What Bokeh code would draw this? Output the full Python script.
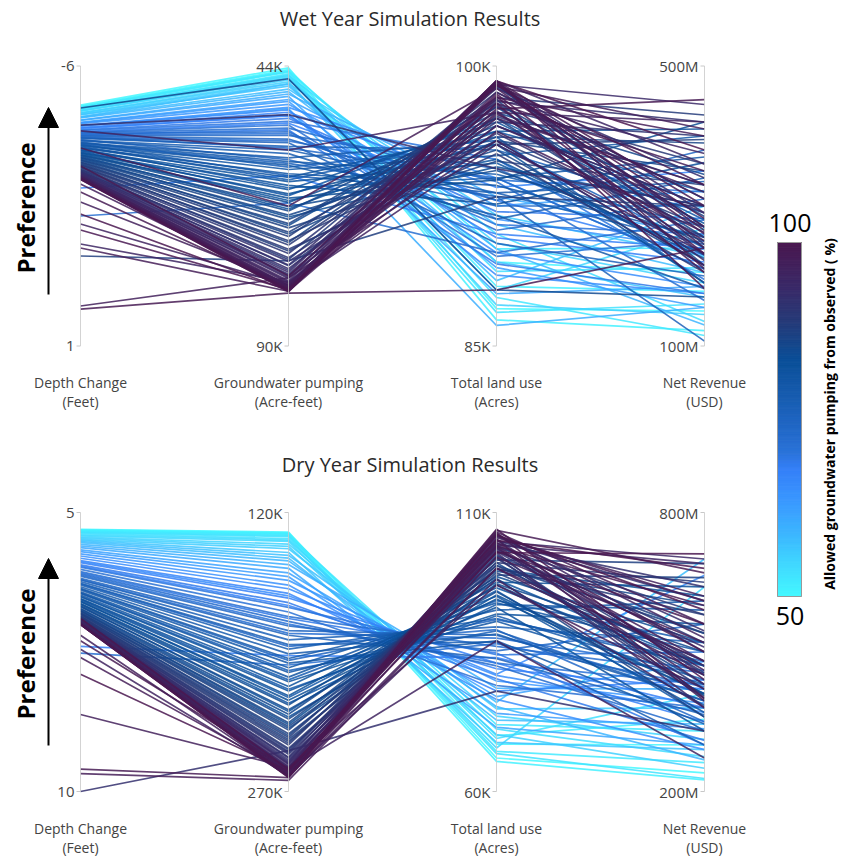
import math
import numpy as np
from bokeh.plotting import figure
from bokeh.layouts import row, column
from bokeh.models import Range1d, ColumnDataSource, Arrow, NormalHead
from bokeh.transform import linear_cmap
from bokeh.core.properties import value
from bokeh.embed import file_html
from bokeh.resources import INLINE

FONT = value("Open Sans")

AXIS_NAMES = ["Depth Change", "Groundwater pumping", "Total land use", "Net Revenue"]
AXIS_UNITS = ["(Feet)", "(Acre-feet)", "(Acres)", "(USD)"]

# ---------------- Wet year (pumping in K acre-feet, land in K acres, revenue in M USD)
WET_TOP = [-6, 44, 100, 500]
WET_BOTTOM = [1, 90, 85, 100]
WET_TOP_LABELS = ["-6", "44K", "100K", "500M"]
WET_BOTTOM_LABELS = ["1", "90K", "85K", "100M"]

wet_pct = [50, 50.5, 51, 51.5, 52, 52.5, 53, 53.5, 54, 54.5,
           55, 55.5, 56, 57, 57.5, 58, 59, 60, 61, 62,
           63, 64, 65, 66, 67, 68, 69, 70, 71, 72,
           73, 74, 75, 76, 77, 77.5, 78, 79, 79.5, 80,
           80.5, 81, 81.5, 82, 82.5, 83, 83.5, 84, 84.5, 85,
           85.5, 86, 86.5, 87, 87.5, 88, 88.5, 89, 89.5, 90,
           90.5, 91, 92, 92.5, 93, 94, 94.5, 95, 96, 96.5,
           97, 97.5, 98, 98.5, 99, 99.5, 100,
           85, 92, 96, 98, 99, 97, 99, 68, 97, 72,
           100, 96, 99.5, 88, 95, 98, 97, 99, 60, 76,
           70.5, 73.5, 75.5, 76.5, 78.5, 79, 80, 81, 82, 83,
           84, 85, 86, 87, 88, 89, 90, 91, 92, 93,
           94, 95, 96, 97, 98, 99, 65.5, 67.5, 69.5, 71.5]
wet_depth = [-5.02, -4.99, -4.98, -4.96, -4.96, -4.92, -4.93, -4.89, -4.88, -4.87,
             -4.83, -4.82, -4.79, -4.78, -4.73, -4.72, -4.70, -4.65, -4.64, -4.59,
             -4.58, -4.56, -4.51, -4.50, -4.46, -4.45, -4.40, -4.39, -4.34, -4.33,
             -4.31, -4.26, -4.25, -4.20, -4.19, -4.14, -4.13, -4.08, -4.07, -4.02,
             -4.01, -3.96, -3.95, -3.90, -3.89, -3.84, -3.83, -3.78, -3.77, -3.72,
             -3.71, -3.66, -3.65, -3.60, -3.59, -3.54, -3.53, -3.48, -3.47, -3.42,
             -3.41, -3.37, -3.36, -3.33, -3.32, -3.29, -3.28, -3.26, -3.24, -3.23,
             -3.22, -3.21, -3.20, -3.19, -3.18, -3.18, -3.16,
             -4.95, -4.52, -4.38, -3.95, -3.50, -3.05, -2.85, -2.95, -2.60, -2.25,
             -2.30, -2.05, -1.90, -1.25, -1.55, -1.45, 0.00, 0.08, -4.50, -4.05,
             -4.28, -4.22, -4.16, -4.10, -4.04, -3.99, -3.93, -3.87, -3.81, -3.75,
             -3.69, -3.63, -3.57, -3.51, -3.45, -3.39, -3.35, -3.31, -3.27, -3.25,
             -3.23, -3.21, -3.20, -3.19, -3.18, -3.17, -4.43, -4.36, -4.29, -4.22]
wet_pump = [44.3, 44.6, 44.8, 45.0, 44.9, 45.3, 45.5, 45.8, 45.6, 46.0,
            46.3, 46.6, 46.9, 47.3, 47.0, 47.8, 48.2, 48.6, 49.0, 49.5,
            49.8, 50.3, 50.8, 51.2, 51.6, 52.2, 52.6, 53.1, 53.7, 54.2,
            54.8, 55.4, 56.0, 56.6, 57.2, 57.8, 58.4, 59.1, 59.7, 60.3,
            61.0, 61.7, 62.3, 63.0, 63.6, 64.3, 65.0, 65.7, 66.4, 67.1,
            67.8, 68.5, 69.2, 69.9, 70.6, 71.3, 72.0, 72.7, 73.4, 74.1,
            74.8, 75.5, 76.1, 76.7, 77.3, 77.9, 78.4, 78.9, 79.3, 79.7,
            80.0, 80.3, 80.5, 80.7, 80.8, 80.9, 81.0,
            46.1, 52.0, 57.8, 67.0, 78.5, 80.2, 80.5, 62.0, 79.8, 66.5,
            80.9, 80.0, 80.7, 76.0, 79.5, 81.0, 78.8, 81.3, 51.0, 60.0,
            55.1, 57.5, 59.4, 60.6, 62.0, 62.7, 64.0, 65.3, 66.1, 67.5,
            68.8, 70.2, 71.6, 73.0, 74.4, 75.8, 76.8, 77.6, 78.2, 78.7,
            79.5, 80.1, 80.4, 80.6, 80.9, 81.1, 52.0, 53.4, 54.5, 56.3]
wet_land = [87.0, 89.5, 86.4, 88.2, 90.2, 87.6, 86.8, 89.0, 91.0, 88.0,
            90.5, 87.2, 92.0, 89.5, 88.5, 91.5, 90.2, 93.0, 87.8, 92.5,
            89.2, 91.8, 94.0, 88.8, 93.5, 90.8, 92.2, 95.0, 89.8, 93.8,
            91.2, 94.5, 92.8, 90.5, 95.5, 93.2, 91.8, 96.0, 94.2, 92.0,
            95.2, 93.6, 96.5, 94.8, 92.6, 97.0, 95.8, 93.9, 96.8, 94.4,
            97.5, 95.5, 96.2, 98.0, 94.9, 97.2, 98.3, 96.0, 97.8, 95.3,
            98.6, 97.0, 96.4, 98.8, 97.6, 99.0, 96.8, 98.2, 99.2, 97.4,
            98.9, 99.1, 98.0, 99.2, 97.7, 98.5, 99.2,
            88.0, 94.5, 97.5, 98.8, 99.0, 96.5, 98.0, 91.0, 97.2, 90.0,
            99.0, 95.8, 98.4, 93.0, 96.8, 97.5, 96.0, 88.0, 86.1, 93.0,
            91.5, 94.0, 92.5, 95.8, 93.2, 96.2, 94.0, 97.2, 95.0, 96.5,
            94.6, 97.8, 96.0, 98.2, 95.8, 98.9, 97.3, 99.0, 98.1, 99.1,
            97.9, 99.2, 98.6, 99.0, 98.3, 99.2, 90.0, 92.8, 89.4, 93.9]
wet_rev = [150, 205, 122, 178, 240, 115, 160, 212, 135, 268,
           190, 145, 228, 170, 300, 205, 130, 258, 185, 322,
           155, 238, 210, 175, 350, 220, 282, 195, 250, 165,
           310, 232, 380, 200, 290, 245, 340, 215, 270, 182,
           400, 255, 320, 230, 362, 275, 190, 420, 300, 250,
           345, 215, 390, 285, 330, 240, 430, 270, 360, 205,
           310, 400, 255, 340, 222, 445, 290, 375, 240, 320,
           410, 265, 350, 300, 452, 232, 380,
           170, 300, 420, 260, 330, 262, 205, 240, 330, 280,
           282, 232, 182, 300, 300, 250, 215, 240, 155, 107,
           260, 210, 300, 240, 335, 190, 370, 280, 225, 410,
           300, 255, 350, 215, 395, 270, 330, 245, 420, 290,
           230, 360, 310, 270, 400, 210, 185, 230, 175, 320]

# ---------------- Dry year
DRY_TOP = [5, 120, 110, 800]
DRY_BOTTOM = [10, 270, 60, 200]
DRY_TOP_LABELS = ["5", "120K", "110K", "800M"]
DRY_BOTTOM_LABELS = ["10", "270K", "60K", "200M"]

dry_pct = [50, 50.5, 51, 51.5, 52, 52.5, 53, 53.5, 54, 54.5,
           55, 55.5, 56, 57, 57.5, 58, 59, 60, 61, 62,
           63, 64, 65, 66, 67, 68, 69, 70, 71, 72,
           73, 74, 75, 76, 77, 77.5, 78, 79, 79.5, 80,
           80.5, 81, 81.5, 82, 82.5, 83, 83.5, 84, 84.5, 85,
           85.5, 86, 86.5, 87, 87.5, 88, 88.5, 89, 89.5, 90,
           90.5, 91, 92, 92.5, 93, 94, 94.5, 95, 96, 96.5,
           97, 97.5, 98, 98.5, 99, 99.5, 100,
           97, 99, 96, 68, 72, 98, 100, 97, 99, 98, 92, 100, 96,
           70.5, 73.5, 75.5, 76.5, 78, 79, 80, 81, 82, 83,
           84, 85, 86, 87, 88, 89, 90, 91, 92, 93,
           94, 95, 96, 97, 98, 99, 65.5, 67.5, 69.5, 71.5]
dry_depth = [5.30, 5.31, 5.32, 5.33, 5.34, 5.35, 5.36, 5.38, 5.40, 5.42,
             5.44, 5.46, 5.48, 5.50, 5.52, 5.54, 5.57, 5.60, 5.63, 5.67,
             5.70, 5.74, 5.78, 5.82, 5.86, 5.90, 5.94, 5.98, 6.02, 6.06,
             6.10, 6.14, 6.18, 6.21, 6.24, 6.27, 6.30, 6.33, 6.36, 6.39,
             6.42, 6.45, 6.48, 6.51, 6.54, 6.57, 6.60, 6.63, 6.66, 6.69,
             6.72, 6.75, 6.77, 6.79, 6.81, 6.83, 6.85, 6.87, 6.89, 6.90,
             6.91, 6.92, 6.93, 6.94, 6.95, 6.96, 6.97, 6.97, 6.98, 6.98,
             6.99, 6.99, 7.00, 7.00, 7.00, 7.01, 7.01,
             7.20, 7.30, 7.45, 7.40, 7.52, 7.60, 7.90, 8.62, 9.60, 9.68, 10.00, 6.90, 6.95,
             6.12, 6.28, 6.37, 6.44, 6.50, 6.55, 6.59, 6.64, 6.68, 6.73,
             6.76, 6.80, 6.82, 6.86, 6.88, 6.90, 6.92, 6.93, 6.94, 6.96,
             6.97, 6.98, 6.99, 7.00, 7.00, 7.01, 5.88, 5.96, 6.08, 6.20]
dry_pump = [130.5, 131.0, 131.2, 131.5, 132.0, 132.5, 133.0, 134.0, 134.8, 135.5,
            137.0, 138.2, 139.5, 141.5, 143.0, 144.5, 146.0, 148.0, 150.0, 152.5,
            154.5, 156.5, 159.0, 161.0, 163.5, 166.0, 168.5, 171.0, 173.5, 176.0,
            178.5, 181.0, 183.5, 186.0, 188.5, 191.0, 193.5, 196.0, 198.5, 201.0,
            203.5, 206.0, 208.5, 211.0, 213.5, 216.0, 218.5, 221.0, 223.5, 226.0,
            228.5, 231.0, 233.0, 235.0, 237.0, 239.0, 241.0, 243.0, 245.0, 246.8,
            248.5, 250.0, 251.5, 253.0, 254.5, 255.5, 256.5, 257.5, 258.2, 259.0,
            259.6, 260.2, 260.8, 261.3, 261.8, 262.2, 262.5,
            262.0, 258.0, 261.5, 197.0, 202.0, 260.0, 259.0, 257.0, 262.5, 264.0, 248.0, 258.0, 258.0,
            180.0, 192.0, 199.5, 205.0, 210.0, 215.0, 219.5, 222.5, 227.0, 230.0,
            234.0, 236.0, 240.0, 242.0, 244.0, 247.5, 249.2, 252.0, 253.8, 255.0,
            257.0, 258.6, 259.8, 260.5, 261.0, 262.0, 164.8, 170.0, 177.0, 185.0]
dry_land = [66.0, 68.5, 65.4, 70.0, 67.2, 72.0, 66.8, 69.5, 71.2, 67.8,
            73.5, 70.2, 74.8, 68.8, 76.0, 72.8, 75.2, 78.5, 71.5, 77.0,
            74.0, 79.8, 76.5, 81.0, 78.0, 83.0, 80.2, 84.5, 79.0, 86.0,
            82.5, 85.2, 88.0, 83.8, 89.5, 86.8, 91.0, 88.2, 92.5, 87.0,
            93.8, 90.5, 95.0, 91.8, 96.5, 93.0, 97.5, 94.5, 98.5, 95.8,
            99.5, 97.0, 100.5, 98.2, 101.5, 99.2, 102.5, 100.0, 103.5, 101.0,
            104.2, 102.0, 105.0, 103.0, 105.8, 102.8, 104.8, 106.2, 103.8, 105.5,
            104.0, 106.5, 105.2, 106.8, 104.6, 107.0, 106.0,
            100.0, 104.0, 98.0, 84.0, 86.5, 102.0, 105.0, 97.0, 103.0, 100.0, 78.0, 102.8, 87.0,
            83.0, 89.0, 90.8, 88.8, 94.2, 91.5, 96.0, 93.5, 98.0, 95.2,
            99.8, 97.2, 101.0, 98.8, 102.2, 100.5, 103.8, 101.8, 104.5, 103.2,
            105.2, 104.2, 106.0, 103.6, 105.8, 106.4, 80.8, 82.0, 84.8, 87.5]
dry_rev = [240, 300, 225, 355, 262, 330, 228, 410, 275, 640,
           312, 250, 380, 290, 700, 345, 268, 420, 300, 480,
           335, 390, 290, 665, 440, 350, 310, 500, 380, 455,
           330, 560, 410, 365, 520, 300, 470, 395, 610, 345,
           500, 430, 370, 560, 470, 330, 640, 410, 520, 385,
           600, 450, 540, 360, 690, 480, 405, 580, 455, 650,
           520, 400, 610, 470, 545, 380, 700, 500, 430, 620,
           460, 560, 395, 670, 500, 440, 590,
           450, 600, 380, 380, 425, 520, 680, 420, 560, 480, 330, 711, 272,
           430, 350, 480, 395, 520, 440, 360, 590, 470, 410,
           620, 500, 430, 660, 540, 470, 580, 420, 640, 510,
           450, 690, 530, 480, 610, 400, 370, 420, 300, 460]

# ---------------- colour scale (50 -> 100 %)
STOPS = [(0.0, "#44f8ff"), (0.08, "#40dcff"), (0.17, "#3cb8ff"), (0.27, "#3a98ff"),
         (0.36, "#3580f8"), (0.41, "#2a72d8"), (0.5, "#1e64c0"), (0.6, "#1458a8"),
         (0.67, "#0a4f98"), (0.78, "#263a78"), (0.875, "#3a2a68"), (1.0, "#4a1850")]


def _rgb(h):
    return tuple(int(h[i:i + 2], 16) for i in (1, 3, 5))


def build_palette(n=256):
    out = []
    for i in range(n):
        t = i / (n - 1)
        for j in range(len(STOPS) - 1):
            t0, c0 = STOPS[j]
            t1, c1 = STOPS[j + 1]
            if t <= t1:
                break
        f = (t - t0) / (t1 - t0)
        a, b = _rgb(c0), _rgb(c1)
        out.append("#%02x%02x%02x" % tuple(int(round(a[k] + (b[k] - a[k]) * f)) for k in range(3)))
    return out


PALETTE = build_palette()

W = 750
AX0 = 80.0
DX = 208.0
TXT = "#444444"


def make_panel(height, top_px, bot_px, title, title_px, lab_px, pref_px, arrow_px,
               pct, cols, tops, bottoms, top_labels, bottom_labels):
    span = float(bot_px - top_px)
    p = figure(width=W, height=height,
               x_range=Range1d(-AX0 / DX, (W - AX0) / DX),
               y_range=Range1d(-(height - bot_px) / span, 1 + top_px / span),
               output_backend="svg", toolbar_location=None, min_border=0,
               x_axis_location=None, y_axis_location=None)
    p.grid.visible = False
    p.outline_line_color = None

    def xv(px):
        return (px - AX0) / DX

    def yv(px):
        return 1 + (top_px - px) / span

    order = sorted(range(len(pct)), key=lambda i: pct[i])
    xs, ys, cs = [], [], []
    for i in order:
        xs.append([0, 1, 2, 3])
        ys.append([(cols[k][i] - bottoms[k]) / (tops[k] - bottoms[k]) for k in range(4)])
        cs.append(pct[i])
    src = ColumnDataSource(dict(xs=xs, ys=ys, pct=cs))
    p.multi_line("xs", "ys", source=src, line_width=1.7, line_alpha=0.85,
                 line_color=linear_cmap("pct", PALETTE, 50, 100))

    ax = [0, 1, 2, 3]
    p.segment(x0=ax, y0=[0] * 4, x1=ax, y1=[1] * 4, line_color="#c8c8c8", line_width=1, line_alpha=0.8)
    tk = 4 / DX
    p.segment(x0=[a - tk for a in ax] * 2, y0=[1] * 4 + [0] * 4, x1=ax * 2, y1=[1] * 4 + [0] * 4,
              line_color="#c8c8c8", line_width=1)
    off = 6 / DX
    p.text(x=[a - off for a in ax], y=[1] * 4, text=top_labels, text_align="right",
           text_baseline="middle", text_font_size="15px", text_color=TXT, text_font=FONT)
    p.text(x=[a - off for a in ax], y=[0] * 4, text=bottom_labels, text_align="right",
           text_baseline="middle", text_font_size="15px", text_color=TXT, text_font=FONT)
    p.text(x=ax, y=[yv(lab_px[0])] * 4, text=AXIS_NAMES, text_align="center",
           text_baseline="middle", text_font_size="14px", text_color=TXT, text_font=FONT)
    p.text(x=ax, y=[yv(lab_px[1])] * 4, text=AXIS_UNITS, text_align="center",
           text_baseline="middle", text_font_size="14px", text_color=TXT, text_font=FONT)
    p.text(x=[xv(409.5)], y=[yv(title_px)], text=[title], text_align="center",
           text_baseline="middle", text_font_size="20px", text_color="#2a2a2a", text_font=FONT)
    p.text(x=[xv(25)], y=[yv(pref_px)], text=["Preference"], angle=math.pi / 2,
           text_align="center", text_baseline="middle", text_font_size="24px",
           text_font_style="bold", text_color="black", text_font=FONT)
    p.add_layout(Arrow(end=NormalHead(size=20, fill_color="black", line_color="black"),
                       x_start=xv(48), y_start=yv(arrow_px[0]), x_end=xv(48), y_end=yv(arrow_px[1]),
                       line_width=2, line_color="black"))
    return p


wet = make_panel(429, 65.5, 345.5, "Wet Year Simulation Results", 17.5, (382, 401), 207.5, (294, 107),
                 wet_pct, [wet_depth, wet_pump, wet_land, wet_rev], WET_TOP, WET_BOTTOM,
                 WET_TOP_LABELS, WET_BOTTOM_LABELS)
dry = make_panel(429, 83, 362, "Dry Year Simulation Results", 35, (399, 418), 224.5, (316, 129),
                 dry_pct, [dry_depth, dry_pump, dry_land, dry_rev], DRY_TOP, DRY_BOTTOM,
                 DRY_TOP_LABELS, DRY_BOTTOM_LABELS)

# ---------------- colour bar
CB_W, CB_H = 90, 858
CB_L, CB_R = 27, 51
CB_TOP, CB_BOT = 242.0, 596.0
s = (CB_BOT - CB_TOP) / 50.0
cb = figure(width=CB_W, height=CB_H, x_range=Range1d(0, CB_W),
            y_range=Range1d(50 - (CB_H - CB_BOT) / s, 100 + CB_TOP / s),
            output_backend="svg", toolbar_location=None, min_border=0,
            x_axis_location=None, y_axis_location=None)
cb.grid.visible = False
cb.outline_line_color = None
lev = np.linspace(50, 100, 201)
csrc = ColumnDataSource(dict(b=lev[:-1], t=lev[1:], m=(lev[:-1] + lev[1:]) / 2))
cmap = linear_cmap("m", PALETTE, 50, 100)
cb.quad(left=CB_L, right=CB_R, bottom="b", top="t", source=csrc, fill_color=cmap, line_color=cmap)
cb.quad(left=[CB_L], right=[CB_R], bottom=[50], top=[100], fill_color=None, line_color="#999999", line_width=1)


def cby(px):
    return 100 - (px - CB_TOP) / s


cb.text(x=[39.5, 39.5], y=[cby(222), cby(615)], text=["100", "50"], text_align="center",
        text_baseline="middle", text_font_size="25px", text_color="black", text_font=FONT)
cb.text(x=[79], y=[cby(413.5)], text=["Allowed groundwater pumping from observed ( %)"],
        angle=math.pi / 2, text_align="center", text_baseline="middle", text_font_size="14px",
        text_font_style="bold", text_color="black", text_font=FONT)

layout = row(column(wet, dry), cb)
open("out.html", "w").write(file_html(layout, INLINE))
